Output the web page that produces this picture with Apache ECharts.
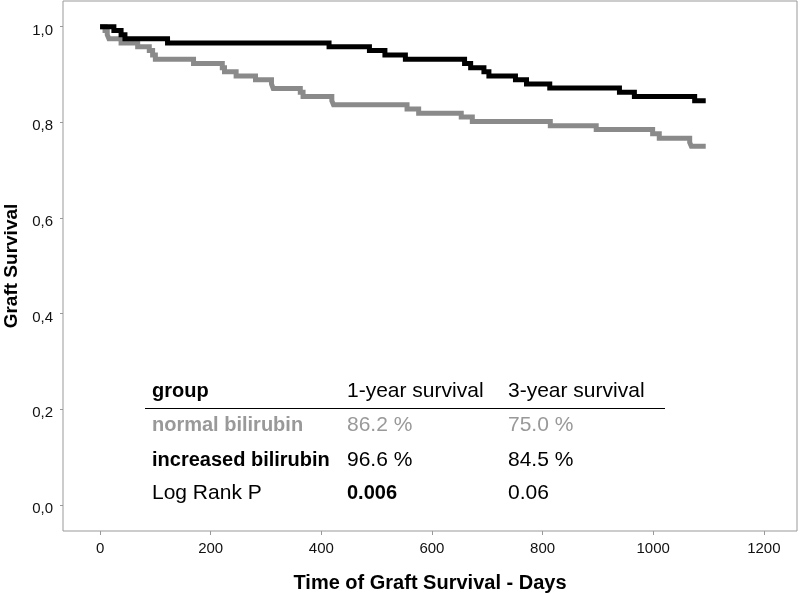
<!DOCTYPE html>
<html>
<head>
<meta charset="utf-8">
<script src="https://cdn.jsdelivr.net/npm/echarts@6/dist/echarts.min.js"></script>
<style>html,body{margin:0;padding:0;background:#fff}#c{width:800px;height:594px}</style>
</head>
<body>
<div id="c"></div>
<script>
// Kaplan-Meier steps: days and survival
var increasedDays = [0, 25, 38, 45, 122, 414, 487, 515, 552, 659, 670, 694, 703, 751, 771, 813, 939, 966, 1075, 1095];
var increasedSurv = [1.0, 0.992, 0.983, 0.975, 0.966, 0.958, 0.950, 0.941, 0.932, 0.923, 0.914, 0.906, 0.897, 0.889, 0.880, 0.872, 0.863, 0.854, 0.845, 0.845];
var normalDays = [0, 9, 13, 16, 38, 68, 89, 95, 100, 169, 221, 225, 246, 281, 310, 313, 362, 367, 419, 422, 555, 576, 653, 673, 814, 897, 999, 1011, 1066, 1069, 1095];
var normalSurv = [1.0, 0.992, 0.983, 0.975, 0.966, 0.958, 0.950, 0.941, 0.932, 0.923, 0.914, 0.906, 0.897, 0.889, 0.880, 0.871, 0.863, 0.854, 0.845, 0.837, 0.828, 0.819, 0.811, 0.802, 0.793, 0.785, 0.776, 0.767, 0.758, 0.750, 0.750];
var xTicks = [0, 200, 400, 600, 800, 1000, 1200];
var yTicks = [0, 0.2, 0.4, 0.6, 0.8, 1.0];
var tableHeader = ['group', '1-year survival', '3-year survival'];
var tableRows = [
  ['normal bilirubin', '86.2 %', '75.0 %'],
  ['increased bilirubin', '96.6 %', '84.5 %'],
  ['Log Rank P', '0.006', '0.06']
];

function pairs(xs, ys) { return xs.map(function (x, i) { return [x, ys[i]]; }); }

var chart = echarts.init(document.getElementById('c'), null, { renderer: 'canvas' });
var FONT = '"Liberation Sans", Arial, sans-serif';
var GRAY_LINE = '#8a8a8a';
var GRAY_TEXT = '#999999';

var colX = [152, 347, 508];
var rowY = [392, 426, 461, 494];
function fnt(b) { return b ? 'bold 20px ' + FONT : '21px ' + FONT; }
var graphics = [];
tableHeader.forEach(function (t, j) {
  graphics.push({ type: 'text', left: colX[j], top: rowY[0] - 11, style: { text: t, font: fnt(j === 0), fill: '#000' } });
});
graphics.push({ type: 'line', shape: { x1: 145, y1: 408.5, x2: 665, y2: 408.5 }, style: { stroke: '#000', lineWidth: 1 } });
var rowStyles = [
  [{ b: true, c: GRAY_TEXT }, { b: false, c: GRAY_TEXT }, { b: false, c: GRAY_TEXT }],
  [{ b: true, c: '#000' }, { b: false, c: '#000' }, { b: false, c: '#000' }],
  [{ b: false, c: '#000' }, { b: true, c: '#000' }, { b: false, c: '#000' }]
];
tableRows.forEach(function (row, i) {
  row.forEach(function (t, j) {
    var s = rowStyles[i][j];
    graphics.push({ type: 'text', left: colX[j], top: rowY[i + 1] - 11, style: { text: t, font: fnt(s.b), fill: s.c } });
  });
});

chart.setOption({
  animation: false,
  backgroundColor: '#fff',
  grid: { left: 63, right: 3, top: 1, bottom: 63, show: true, borderColor: '#999', borderWidth: 1, backgroundColor: 'transparent', containLabel: false, outerBoundsMode: 'none' },
  xAxis: {
    type: 'value', min: -67, max: 1260,
    name: 'Time of Graft Survival - Days', nameLocation: 'middle', nameGap: 42,
    nameTextStyle: { fontFamily: FONT, fontWeight: 'bold', fontSize: 20, color: '#000' },
    axisLine: { show: false, onZero: false },
    axisTick: { show: true, length: 4, lineStyle: { color: '#999' }, customValues: xTicks },
    axisLabel: { fontFamily: FONT, fontSize: 15, color: '#111', margin: 10, customValues: xTicks,
      formatter: function (v) { return String(v); } },
    splitLine: { show: false }
  },
  yAxis: {
    type: 'value', min: -0.0544, max: 1.0537,
    name: 'Graft Survival', nameLocation: 'middle', nameGap: 37, nameRotate: 90,
    nameTextStyle: { fontFamily: FONT, fontWeight: 'bold', fontSize: 19, color: '#000' },
    axisLine: { show: false, onZero: false },
    axisTick: { show: true, length: 3, lineStyle: { color: '#999' }, customValues: yTicks },
    axisLabel: { fontFamily: FONT, fontSize: 15, color: '#111', margin: 10, customValues: yTicks,
      formatter: function (v) { return '{a|' + v.toFixed(1).replace('.', ',') + '}'; },
      rich: { a: { fontFamily: FONT, fontSize: 15, color: '#111', padding: [8, 0, 0, 0] } } },
    splitLine: { show: false }
  },
  series: [
    { type: 'line', name: 'normal bilirubin', step: 'end', data: pairs(normalDays, normalSurv), showSymbol: false, symbol: 'none',
      lineStyle: { color: GRAY_LINE, width: 5, cap: 'butt', join: 'miter' }, z: 2 },
    { type: 'line', name: 'increased bilirubin', step: 'end', data: pairs(increasedDays, increasedSurv), showSymbol: false, symbol: 'none',
      lineStyle: { color: '#000', width: 5, cap: 'butt', join: 'miter' }, z: 3 }
  ],
  graphic: graphics
});
</script>
</body>
</html>
